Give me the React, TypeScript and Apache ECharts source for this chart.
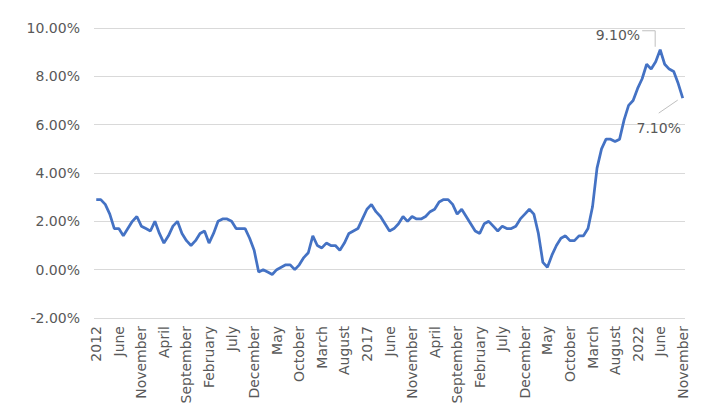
import React, { useEffect, useRef } from "react";
import * as echarts from "echarts";

// Monthly year-over-year inflation, Jan 2012 – Nov 2022 (percent)
const y2012 = [2.9, 2.9, 2.7, 2.3, 1.7, 1.7, 1.4, 1.7, 2.0, 2.2, 1.8, 1.7];
const y2013 = [1.6, 2.0, 1.5, 1.1, 1.4, 1.8, 2.0, 1.5, 1.2, 1.0, 1.2, 1.5];
const y2014 = [1.6, 1.1, 1.5, 2.0, 2.1, 2.1, 2.0, 1.7, 1.7, 1.7, 1.3, 0.8];
const y2015 = [-0.1, 0.0, -0.1, -0.2, 0.0, 0.1, 0.2, 0.2, 0.0, 0.2, 0.5, 0.7];
const y2016 = [1.4, 1.0, 0.9, 1.1, 1.0, 1.0, 0.8, 1.1, 1.5, 1.6, 1.7, 2.1];
const y2017 = [2.5, 2.7, 2.4, 2.2, 1.9, 1.6, 1.7, 1.9, 2.2, 2.0, 2.2, 2.1];
const y2018 = [2.1, 2.2, 2.4, 2.5, 2.8, 2.9, 2.9, 2.7, 2.3, 2.5, 2.2, 1.9];
const y2019 = [1.6, 1.5, 1.9, 2.0, 1.8, 1.6, 1.8, 1.7, 1.7, 1.8, 2.1, 2.3];
const y2020 = [2.5, 2.3, 1.5, 0.3, 0.1, 0.6, 1.0, 1.3, 1.4, 1.2, 1.2, 1.4];
const y2021 = [1.4, 1.7, 2.6, 4.2, 5.0, 5.4, 5.4, 5.3, 5.4, 6.2, 6.8, 7.0];
const y2022 = [7.5, 7.9, 8.5, 8.3, 8.6, 9.1, 8.5, 8.3, 8.2, 7.7, 7.1];

const years = [2012, 2013, 2014, 2015, 2016, 2017, 2018, 2019, 2020, 2021, 2022];
const monthNames = [
  "January", "February", "March", "April", "May", "June",
  "July", "August", "September", "October", "November", "December",
];

const values = [
  ...y2012, ...y2013, ...y2014, ...y2015, ...y2016, ...y2017,
  ...y2018, ...y2019, ...y2020, ...y2021, ...y2022,
];

// Category labels: year number for January, month name otherwise
const categories: string[] = [];
years.forEach((yr) => {
  monthNames.forEach((m, i) => {
    if (categories.length < values.length) categories.push(i === 0 ? String(yr) : m);
  });
});

const peakIndex = values.indexOf(Math.max(...values));
const lastIndex = values.length - 1;

const FONT = "DejaVu Sans, Verdana, sans-serif";
const TEXT = "#595959";

export default function App() {
  const ref = useRef<HTMLDivElement>(null);

  useEffect(() => {
    if (!ref.current) return;
    const chart = echarts.init(ref.current, undefined, { renderer: "svg" });
    chart.setOption({
      animation: false,
      backgroundColor: "#ffffff",
      grid: { left: 94, right: 19, top: 28, bottom: 98 },
      xAxis: {
        type: "category",
        data: categories,
        boundaryGap: true,
        axisLine: { show: false },
        axisTick: { show: false },
        axisLabel: {
          interval: 4,
          rotate: 90,
          margin: 8,
          color: TEXT,
          fontFamily: FONT,
          fontSize: 14,
        },
      },
      yAxis: {
        type: "value",
        min: -2,
        max: 10,
        interval: 2,
        axisLine: { show: false },
        axisTick: { show: false },
        splitLine: { lineStyle: { color: "#d9d9d9", width: 1 } },
        axisLabel: {
          margin: 14,
          color: TEXT,
          fontFamily: FONT,
          fontSize: 14,
          formatter: (v: number) => v.toFixed(2) + "%",
        },
      },
      series: [
        {
          type: "line",
          data: values,
          showSymbol: false,
          lineStyle: { color: "#4472c4", width: 2.75 },
        },
      ],
    });

    // Callouts for the peak and the latest value
    const [px, py] = chart.convertToPixel({ seriesIndex: 0 }, [peakIndex, values[peakIndex]]) as number[];
    const [ex, ey] = chart.convertToPixel({ seriesIndex: 0 }, [lastIndex, values[lastIndex]]) as number[];
    const lineStyle = { stroke: "#bfbfbf", lineWidth: 1, fill: null };
    chart.setOption({
      graphic: [
        {
          type: "polyline",
          shape: { points: [[px - 18, py - 19], [px - 5, py - 19], [px - 5, py - 3]] },
          style: lineStyle,
          silent: true,
        },
        {
          type: "text",
          x: px - 20,
          y: py - 15,
          style: {
            text: values[peakIndex].toFixed(2) + "%",
            fill: TEXT,
            font: `14px ${FONT}`,
            textAlign: "right",
            textVerticalAlign: "middle",
          },
        },
        {
          type: "line",
          shape: { x1: ex - 5, y1: ey + 2, x2: ex - 24, y2: ey + 15 },
          style: lineStyle,
          silent: true,
        },
        {
          type: "text",
          x: ex - 24,
          y: ey + 30,
          style: {
            text: values[lastIndex].toFixed(2) + "%",
            fill: TEXT,
            font: `14px ${FONT}`,
            textAlign: "center",
            textVerticalAlign: "middle",
          },
        },
      ],
    });

    return () => chart.dispose();
  }, []);

  return (
    <div
      ref={ref}
      style={{ position: "fixed", left: 0, top: 0, width: 704, height: 416 }}
    />
  );
}
